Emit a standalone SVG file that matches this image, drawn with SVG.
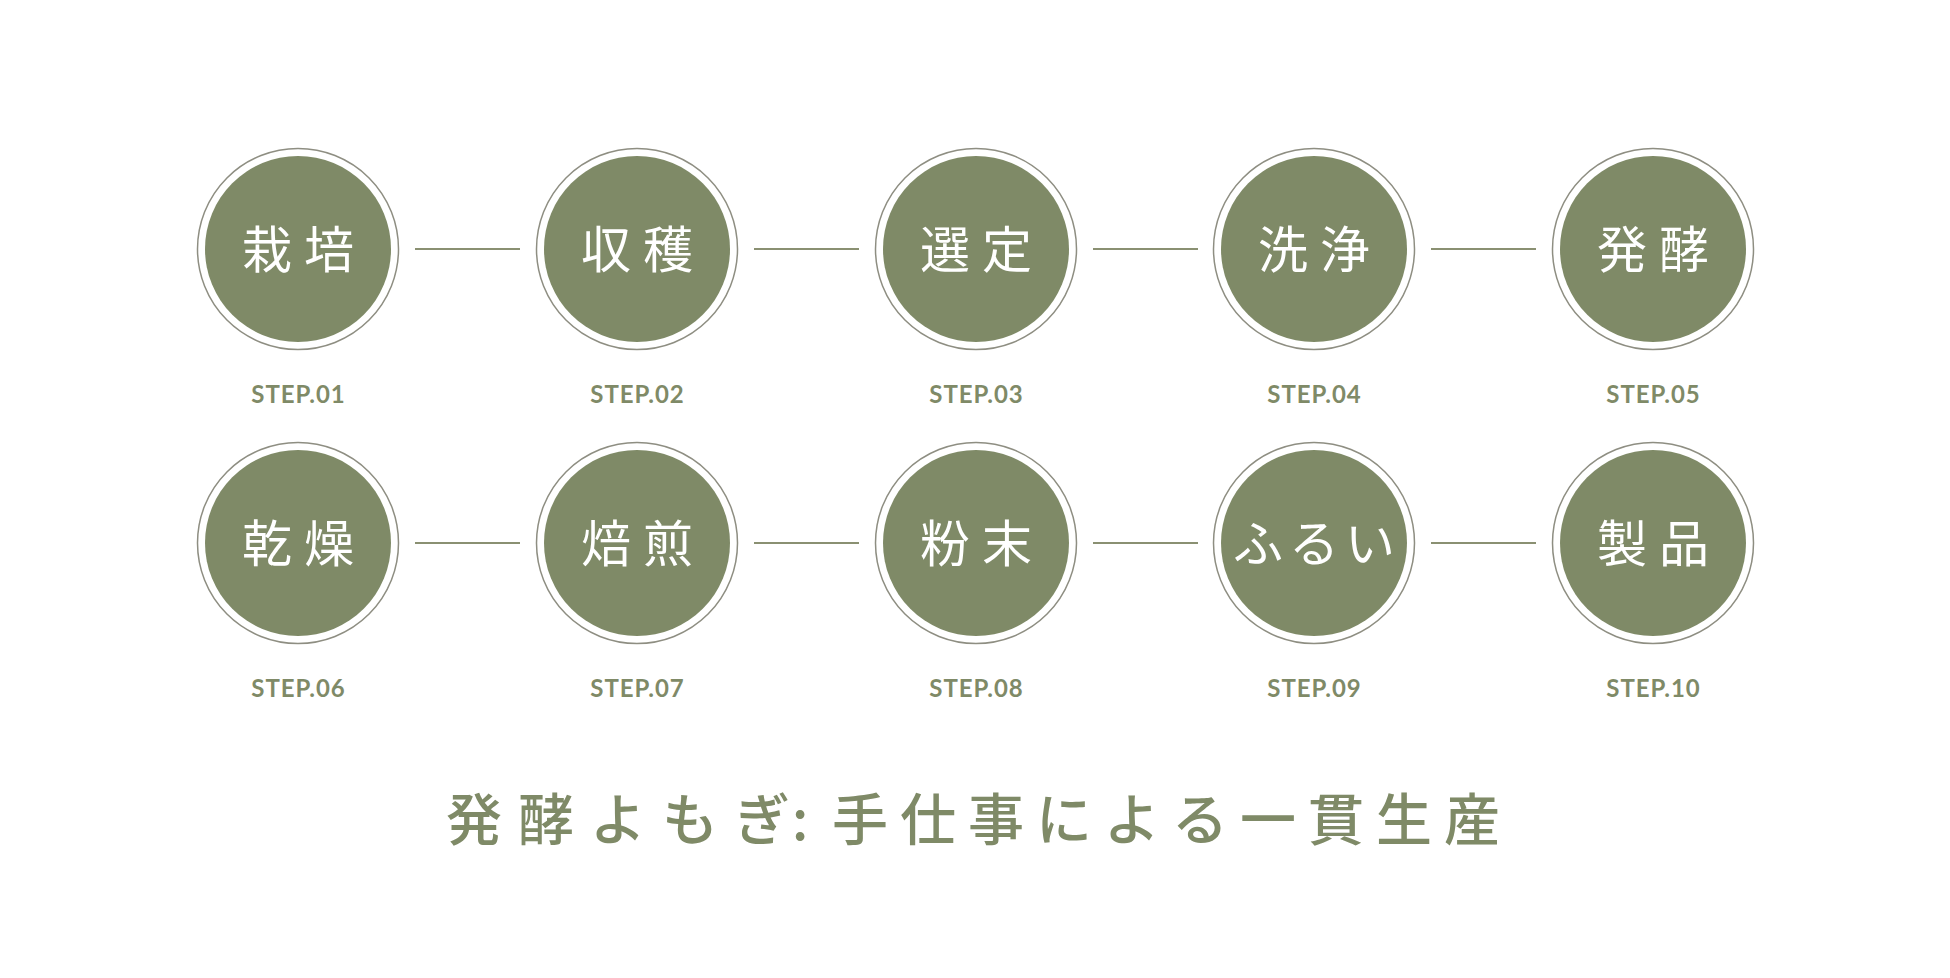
<svg xmlns="http://www.w3.org/2000/svg" width="1950" height="978" viewBox="0 0 1950 978">
<style>
.ring{fill:#ffffff;stroke:#8e8e82;stroke-width:1.5}
.disc{fill:#7f8a67}
.lbl{font-family:"Noto Sans CJK JP","Noto Sans",sans-serif;font-size:50px;font-weight:400;fill:#ffffff}
.step{font-family:"Lato","Liberation Sans",sans-serif;font-size:24px;font-weight:700;fill:#7f8a67;letter-spacing:1px;text-anchor:middle}
.conn{stroke:#8a9072;stroke-width:1.8;fill:none}
.title{font-family:"Noto Sans CJK JP",sans-serif;font-size:56px;font-weight:500;fill:#7f8a67}
</style>
<rect width="1950" height="978" fill="#ffffff"/>
<g id="connectors">
<line class="conn" x1="415" y1="249" x2="520" y2="249"/>
<line class="conn" x1="754" y1="249" x2="859" y2="249"/>
<line class="conn" x1="1093" y1="249" x2="1198" y2="249"/>
<line class="conn" x1="1431" y1="249" x2="1536" y2="249"/>
<line class="conn" x1="415" y1="543" x2="520" y2="543"/>
<line class="conn" x1="754" y1="543" x2="859" y2="543"/>
<line class="conn" x1="1093" y1="543" x2="1198" y2="543"/>
<line class="conn" x1="1431" y1="543" x2="1536" y2="543"/>
</g>
<g id="step01"><circle class="ring" cx="298" cy="249" r="100.5"/><circle class="disc" cx="298" cy="249" r="93"/><text class="lbl" x="242 304" y="268">栽培</text><text class="step" x="298.5" y="403">STEP.01</text></g>
<g id="step02"><circle class="ring" cx="637" cy="249" r="100.5"/><circle class="disc" cx="637" cy="249" r="93"/><text class="lbl" x="581 643" y="268">収穫</text><text class="step" x="637.5" y="403">STEP.02</text></g>
<g id="step03"><circle class="ring" cx="976" cy="249" r="100.5"/><circle class="disc" cx="976" cy="249" r="93"/><text class="lbl" x="920 982" y="268">選定</text><text class="step" x="976.5" y="403">STEP.03</text></g>
<g id="step04"><circle class="ring" cx="1314" cy="249" r="100.5"/><circle class="disc" cx="1314" cy="249" r="93"/><text class="lbl" x="1258 1320" y="268">洗浄</text><text class="step" x="1314.5" y="403">STEP.04</text></g>
<g id="step05"><circle class="ring" cx="1653" cy="249" r="100.5"/><circle class="disc" cx="1653" cy="249" r="93"/><text class="lbl" x="1597 1659" y="268">発酵</text><text class="step" x="1653.5" y="403">STEP.05</text></g>
<g id="step06"><circle class="ring" cx="298" cy="543" r="100.5"/><circle class="disc" cx="298" cy="543" r="93"/><text class="lbl" x="242 304" y="562">乾燥</text><text class="step" x="298.5" y="697">STEP.06</text></g>
<g id="step07"><circle class="ring" cx="637" cy="543" r="100.5"/><circle class="disc" cx="637" cy="543" r="93"/><text class="lbl" x="581 643" y="562">焙煎</text><text class="step" x="637.5" y="697">STEP.07</text></g>
<g id="step08"><circle class="ring" cx="976" cy="543" r="100.5"/><circle class="disc" cx="976" cy="543" r="93"/><text class="lbl" x="920 982" y="562">粉末</text><text class="step" x="976.5" y="697">STEP.08</text></g>
<g id="step09"><circle class="ring" cx="1314" cy="543" r="100.5"/><circle class="disc" cx="1314" cy="543" r="93"/><text class="lbl" x="1233 1289 1345" y="562">ふるい</text><text class="step" x="1314.5" y="697">STEP.09</text></g>
<g id="step10"><circle class="ring" cx="1653" cy="543" r="100.5"/><circle class="disc" cx="1653" cy="543" r="93"/><text class="lbl" x="1597 1659" y="562">製品</text><text class="step" x="1653.5" y="697">STEP.10</text></g>
<g id="title">
<text class="title" x="446 518 590 662 734" y="840">発酵よもぎ</text>
<text class="title" x="800" y="840" text-anchor="middle">:</text>
<text class="title" x="832 900 968 1036 1104 1172 1240 1308 1376 1444" y="840">手仕事による一貫生産</text>
</g>
</svg>
